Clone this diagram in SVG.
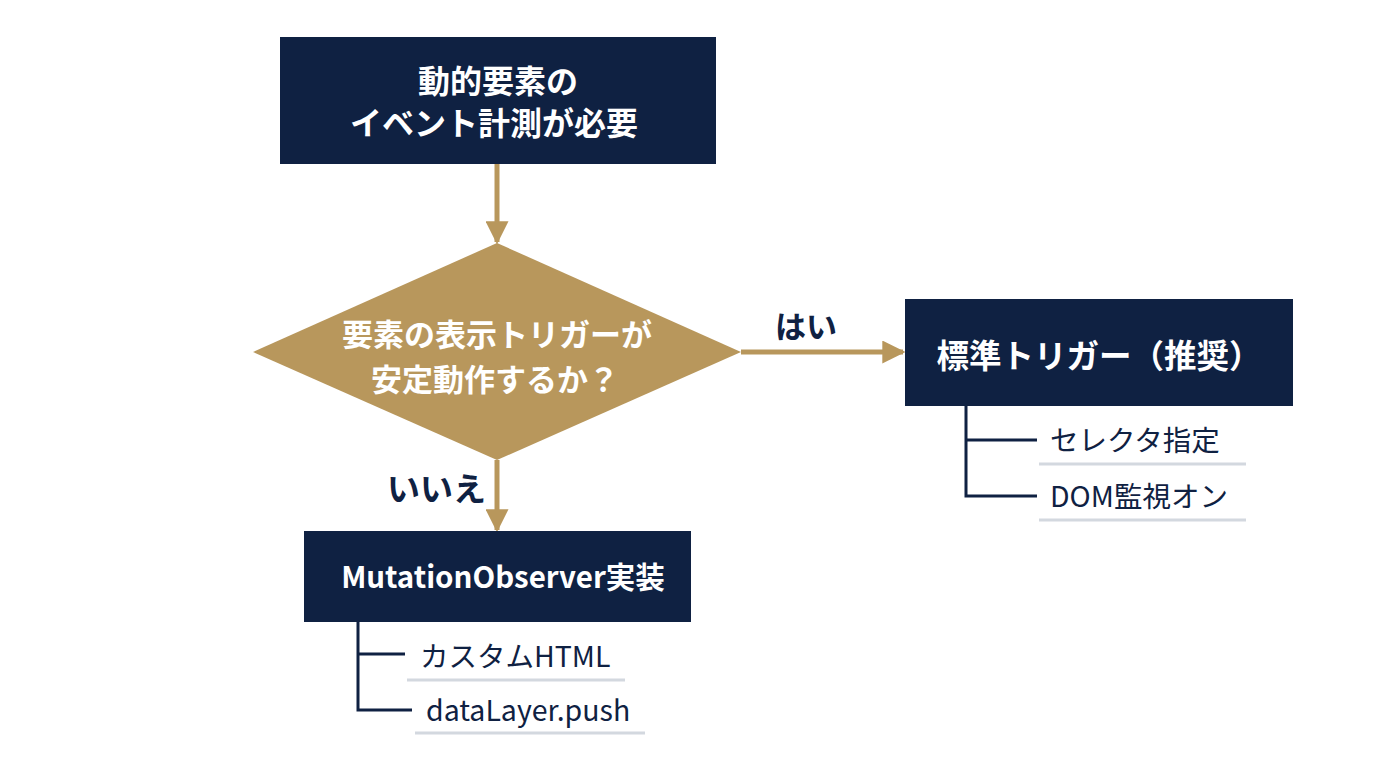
<svg xmlns="http://www.w3.org/2000/svg" width="1376" height="768" viewBox="0 0 1376 768">
<defs>
<style>
.box{fill:#0f2142}
.dia{fill:#b8975c}
.conn{stroke:#b8975c;stroke-width:5;fill:none}
.tree{stroke:#0f2142;stroke-width:3;fill:none}
.ul{stroke:#d3d8df;stroke-width:3}
.t{font-family:"Noto Sans CJK JP","Noto Sans",sans-serif;font-weight:700;fill:#ffffff;text-anchor:middle}
.lbl{font-family:"Noto Sans CJK JP","Noto Sans",sans-serif;font-weight:700;fill:#0f2142}
.sub{font-family:"Noto Sans CJK JP","Noto Sans",sans-serif;font-weight:400;fill:#0f2142;font-size:28.5px}
</style>
<marker id="ah" viewBox="0 0 10 10" refX="9" refY="5" markerWidth="4.6" markerHeight="4.6" orient="auto" markerUnits="strokeWidth">
<path d="M0,0 L10,5 L0,10 z" fill="#b8975c"/>
</marker>
</defs>
<rect width="1376" height="768" fill="#ffffff"/>
<g id="connectors">
<line class="conn" x1="497" y1="164" x2="497" y2="242" marker-end="url(#ah)"/>
<line class="conn" x1="741" y1="352" x2="903" y2="352" marker-end="url(#ah)"/>
<line class="conn" x1="497" y1="460" x2="497" y2="530" marker-end="url(#ah)"/>
<text class="lbl" x="775" y="338" font-size="31">はい</text>
<text class="lbl" x="387" y="501" font-size="33">いいえ</text>
</g>
<g id="start">
<rect class="box" x="280" y="37" width="436" height="127"/>
<text class="t" x="498" y="93" font-size="32">動的要素の</text>
<text class="t" x="494" y="135" font-size="32">イベント計測が必要</text>
</g>
<g id="decision">
<polygon class="dia" points="497,243 741,352 497,460 253,352"/>
<text class="t" x="497" y="346" font-size="31">要素の表示トリガーが</text>
<text class="t" x="495" y="391" font-size="31">安定動作するか？</text>
</g>
<g id="standard">
<rect class="box" x="905" y="299" width="388" height="107"/>
<text class="t" x="1099" y="368" font-size="32.5">標準トリガー（推奨）</text>
<path class="tree" d="M966,406 V496 H1037 M966,440 H1037"/>
<text class="sub" x="1050" y="451">セレクタ指定</text>
<line class="ul" x1="1039" y1="464" x2="1246" y2="464"/>
<text class="sub" x="1050" y="507">DOM監視オン</text>
<line class="ul" x1="1039" y1="520" x2="1246" y2="520"/>
</g>
<g id="mutation">
<rect class="box" x="304" y="531" width="387" height="91"/>
<text class="t" x="503" y="588" font-size="29.5">MutationObserver実装</text>
<path class="tree" d="M358,622 V710 H412 M358,654 H405"/>
<text class="sub" x="420" y="667">カスタムHTML</text>
<line class="ul" x1="407" y1="680" x2="625" y2="680"/>
<text class="sub" x="426" y="721">dataLayer.push</text>
<line class="ul" x1="415" y1="733" x2="645" y2="733"/>
</g>
</svg>
